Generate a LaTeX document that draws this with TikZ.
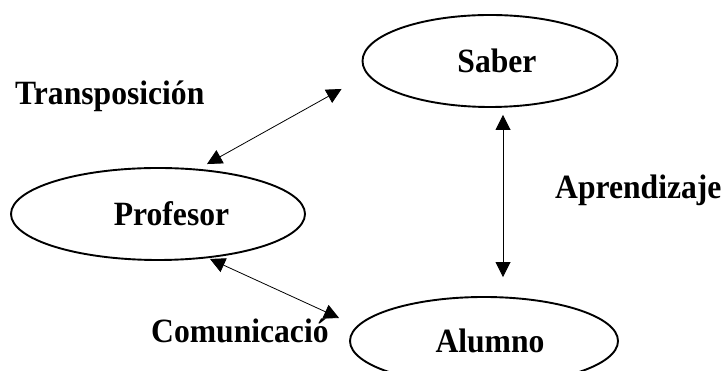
\documentclass[tikz,border=0pt]{standalone}
\usepackage{fontspec}
\setmainfont{Liberation Serif}[FakeStretch=0.93]
\usetikzlibrary{arrows.meta,shapes.geometric}

\begin{document}
\begin{tikzpicture}[x=1pt, y=1pt,
		font=\fontsize{34}{40}\selectfont\bfseries,
		elip/.style={draw, ellipse, line width=1.9pt, inner sep=0pt},
		conn/.style={line width=0.8pt, {Triangle[length=15pt,width=15pt]}-{Triangle[length=15pt,width=15pt]}},
		lbl/.style={anchor=base west, inner sep=0pt}]
		%%%%% START %%%%%
		
		\useasboundingbox (0, 0) rectangle (725, 371);
		
		\node[elip, minimum width=255, minimum height=92] (saber) at (490, 310) {\hspace*{14pt}Saber};
		\node[elip, minimum width=294, minimum height=92] (profesor) at (158, 157) {\hspace*{27pt}Profesor};
		\node[elip, minimum width=268, minimum height=88] (alumno) at (484, 30) {\hspace*{12pt}Alumno};
		
		\node[lbl] (transp) at (15, 266) {Transposición};
		\node[lbl] (aprend) at (555, 172) {Aprendizaje};
		\node[lbl] (comun) at (151, 28) {Comunicació};
		
		\draw[conn] ([xshift=49pt, yshift=3pt]profesor.north) -- ([xshift=-20pt, yshift=-28pt]saber.west);
		\draw[conn] ([xshift=13pt, yshift=-7pt]saber.south) -- ([xshift=19pt, yshift=19pt]alumno.north);
		\draw[conn] ([xshift=52pt, yshift=2pt]profesor.south) -- ([xshift=-10pt, yshift=23pt]alumno.west);
		
		%%%%% END %%%%%
\end{tikzpicture}
\end{document}
